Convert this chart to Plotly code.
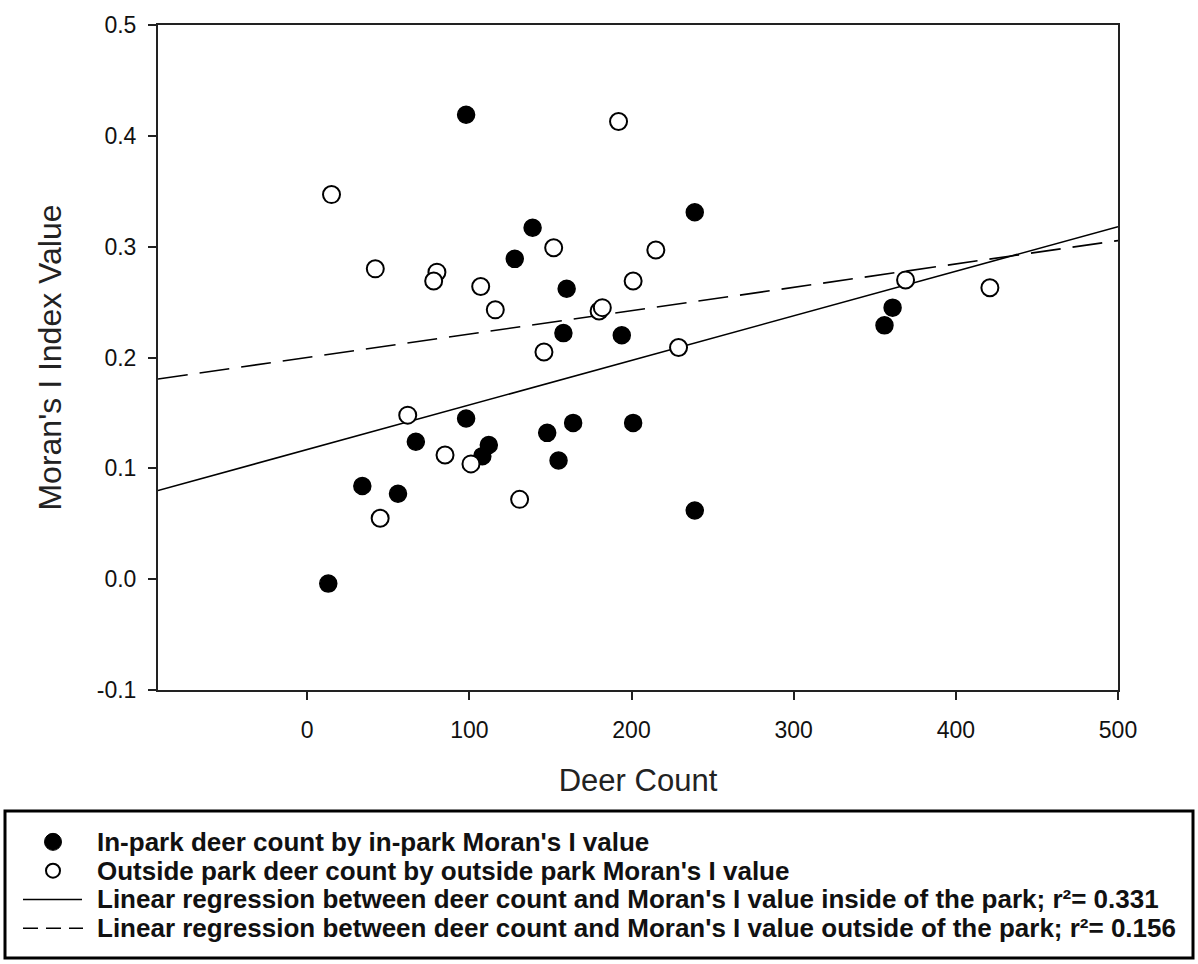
import plotly.graph_objects as go

# In-park data (filled circles)
in_x = [98, 139, 128, 160, 158, 194, 239, 201, 239, 356, 361, 98, 67, 112, 108, 148, 164, 155, 34, 56, 13]
in_y = [0.419, 0.317, 0.289, 0.262, 0.222, 0.220, 0.331, 0.141, 0.062, 0.229, 0.245,
        0.145, 0.124, 0.121, 0.111, 0.132, 0.141, 0.107, 0.084, 0.077, -0.004]

# Outside-park data (open circles)
out_x = [192, 15, 152, 42, 80, 78, 107, 201, 116, 180, 182, 146, 215, 229, 369, 421, 62, 85, 101, 45, 131]
out_y = [0.413, 0.347, 0.299, 0.280, 0.277, 0.269, 0.264, 0.269, 0.243, 0.242, 0.245, 0.205,
         0.297, 0.209, 0.270, 0.263, 0.148, 0.112, 0.104, 0.055, 0.072]

# Regression lines (intercept, slope)
in_fit = (0.117, 0.000402)
out_fit = (0.200, 0.000211)

x_range = [-92, 500]
y_range = [-0.1, 0.5]
x_ticks = [0, 100, 200, 300, 400, 500]
y_ticks = [-0.1, 0.0, 0.1, 0.2, 0.3, 0.4, 0.5]
y_ticktext = ["-0.1", "0.0", "0.1", "0.2", "0.3", "0.4", "0.5"]

labels = [
    "In-park deer count by in-park Moran's I value",
    "Outside park deer count by outside park Moran's I value",
    "Linear regression between deer count and Moran's I value inside of the park; r\u00b2= 0.331",
    "Linear regression between deer count and Moran's I value outside of the park; r\u00b2= 0.156",
]

W, H = 1198, 964
ML, MR, MT, MB = 158, 80, 20, 274
PW, PH = W - ML - MR, H - MT - MB


def px(x):
    return (x - ML) / PW


def py(y):
    return (H - MB - y) / PH


FONT = "Liberation Sans, Arial, sans-serif"

fig = go.Figure()
fig.add_trace(go.Scatter(
    x=x_range, y=[in_fit[0] + in_fit[1] * v for v in x_range], mode="lines",
    line=dict(color="black", width=1.6), name=labels[2], showlegend=False))
fig.add_trace(go.Scatter(
    x=x_range, y=[out_fit[0] + out_fit[1] * v for v in x_range], mode="lines",
    line=dict(color="black", width=1.6, dash="30px,12px"), name=labels[3], showlegend=False))
fig.add_trace(go.Scatter(
    x=in_x, y=in_y, mode="markers", name=labels[0], showlegend=False,
    marker=dict(symbol="circle", size=17, color="black", line=dict(color="black", width=1.5))))
fig.add_trace(go.Scatter(
    x=out_x, y=out_y, mode="markers", name=labels[1], showlegend=False,
    marker=dict(symbol="circle", size=17, color="white", line=dict(color="black", width=2))))

axis_common = dict(
    showline=True, linecolor="#222", linewidth=2, mirror=True,
    ticks="outside", ticklen=8, tickwidth=2, tickcolor="#222",
    showgrid=False, zeroline=False,
    tickfont=dict(family=FONT, size=23, color="#111"),
)

# Manual legend (box, symbols, labels)
row_y = [843, 872, 901, 930]
sym_x = 53
shapes = [
    dict(type="rect", xref="paper", yref="paper",
         x0=px(5), x1=px(1193), y0=py(960), y1=py(812),
         line=dict(color="black", width=3)),
    dict(type="circle", xref="paper", yref="paper", xsizemode="pixel", ysizemode="pixel",
         xanchor=px(sym_x), yanchor=py(row_y[0]), x0=-8.5, x1=8.5, y0=-8.5, y1=8.5,
         fillcolor="black", line=dict(color="black", width=1)),
    dict(type="circle", xref="paper", yref="paper", xsizemode="pixel", ysizemode="pixel",
         xanchor=px(sym_x), yanchor=py(row_y[1]), x0=-7, x1=7, y0=-7, y1=7,
         fillcolor="white", line=dict(color="black", width=2)),
    dict(type="line", xref="paper", yref="paper",
         x0=px(23), x1=px(82), y0=py(row_y[2]), y1=py(row_y[2]),
         line=dict(color="black", width=1.6)),
    dict(type="line", xref="paper", yref="paper",
         x0=px(23), x1=px(83), y0=py(row_y[3]), y1=py(row_y[3]),
         line=dict(color="black", width=1.6, dash="15px,8px")),
]
annotations = [
    dict(text=lab, xref="paper", yref="paper", x=px(95), y=py(yy),
         xanchor="left", yanchor="middle", showarrow=False,
         font=dict(family=FONT, size=26, color="#111", weight="bold"))
    for lab, yy in zip(labels, row_y)
]

fig.update_layout(
    width=W, height=H,
    margin=dict(l=ML, r=MR, t=MT, b=MB),
    plot_bgcolor="white", paper_bgcolor="white",
    showlegend=False,
    xaxis=dict(range=x_range, tickvals=x_ticks, ticklabelstandoff=10,
               title=dict(text="Deer Count", font=dict(family=FONT, size=31, color="#222"), standoff=28),
               **axis_common),
    yaxis=dict(range=y_range, tickvals=y_ticks, ticktext=y_ticktext, ticklabelstandoff=7,
               title=dict(text="Moran's I Index Value", font=dict(family=FONT, size=32, color="#222"), standoff=26),
               **axis_common),
    shapes=shapes,
    annotations=annotations,
)

fig.write_html("out.html")
